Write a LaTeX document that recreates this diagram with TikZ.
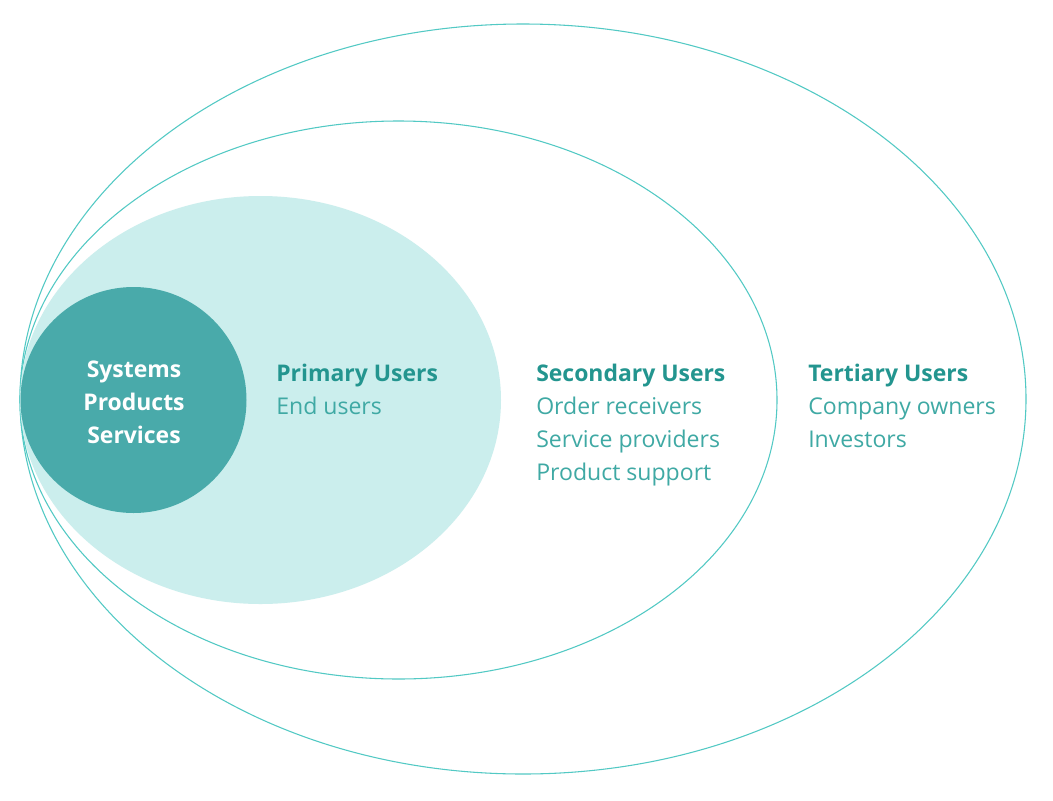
\documentclass[tikz,border=0pt]{standalone}
\usepackage{fontspec}
\setmainfont{Open Sans}
\definecolor{linec}{HTML}{52C9C4}
\definecolor{lightf}{HTML}{CBEEED}
\definecolor{darkf}{HTML}{49AAAA}
\definecolor{headc}{HTML}{23958F}
\definecolor{itemc}{HTML}{3FA9A4}
\begin{document}
\begin{tikzpicture}[x=0.75pt,y=-0.75pt,
  ring/.style={draw=linec,line width=0.8pt},
  head/.style={anchor=base west,inner sep=0pt,text=headc,font=\bfseries\fontsize{17.2}{20}\selectfont},
  item/.style={anchor=base west,inner sep=0pt,text=itemc,font=\fontsize{17.3}{20}\selectfont},
  core/.style={anchor=base,inner sep=0pt,text=white,font=\bfseries\fontsize{17.2}{20}\selectfont}]
\useasboundingbox (0,0) rectangle (1053,800);
\fill[white] (0,0) rectangle (1053,800);
\draw[ring] (523,399) ellipse [x radius=503, y radius=375];
\draw[ring] (398.5,400) ellipse [x radius=378.5, y radius=279];
\fill[lightf] (260.5,400) ellipse [x radius=240.5, y radius=204];
\fill[darkf] (133.5,400) circle [radius=113];
\node[core] (sys) at (134,377) {Systems};
\node[core] (prod) at (134,410) {Products};
\node[core] (serv) at (134,443) {Services};
\node[head] (prim) at (276,381) {Primary Users};
\node[item] (endu) at (276,414) {End users};
\node[head] (sec) at (536,381) {Secondary Users};
\node[item] (ord) at (536,414) {Order receivers};
\node[item] (svp) at (536,447) {Service providers};
\node[item] (psup) at (536,480) {Product support};
\node[head] (ter) at (808,381) {Tertiary Users};
\node[item] (comp) at (808,414) {Company owners};
\node[item] (inv) at (808,447) {Investors};
\end{tikzpicture}
\end{document}
